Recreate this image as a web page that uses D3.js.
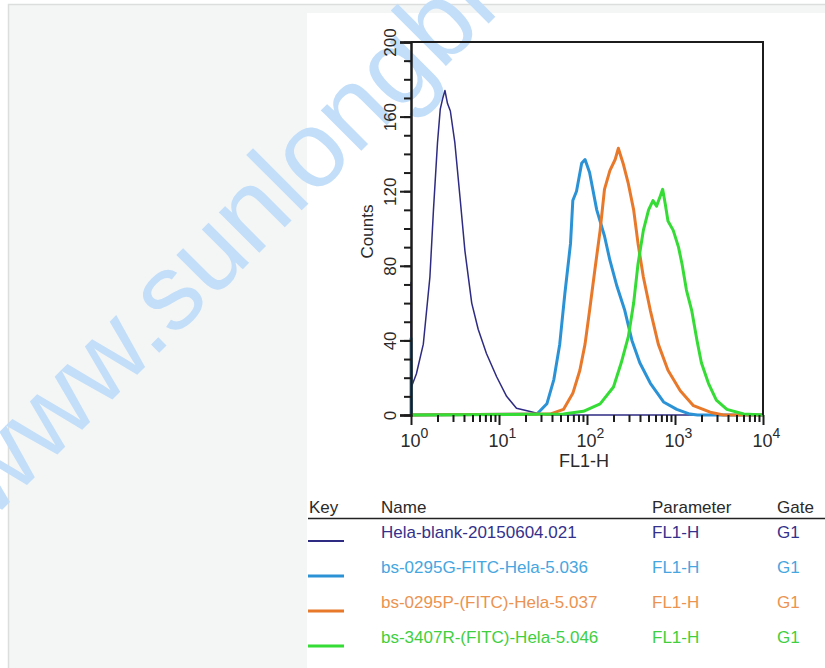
<!DOCTYPE html>
<html>
<head>
<meta charset="utf-8">
<script src="https://cdn.jsdelivr.net/npm/d3@7"></script>
<style>
  html, body { margin: 0; padding: 0; background: #fff; }
  svg { display: block; font-family: "Liberation Sans", Arial, sans-serif; }
</style>
</head>
<body>
<div id="chart"></div>
<script>
// histogram data: [FL1-H, count]
const blankHist = [[1, 0], [1, 71], [1.01, 15], [1.15, 22], [1.38, 38], [1.64, 74], [1.8, 110], [2.0, 146],
  [2.15, 164], [2.3, 170], [2.43, 174], [2.6, 167], [2.8, 163], [3.15, 146], [3.6, 117], [4.1, 88],
  [4.9, 60], [5.8, 46], [7.2, 33], [9.4, 20.5], [12.2, 10], [15.8, 3.6], [22, 2], [29, 0.5], [35, 0], [10000, 0]];
const g0295Hist = [[1, 0], [1, 41], [1.01, 0], [27, 0.5], [35, 6], [42, 19], [49, 38], [56, 65], [65, 92],
  [69, 115], [76, 120], [87, 135], [95, 137], [107, 130], [129, 110], [158, 96], [182, 83], [219, 69],
  [269, 56], [324, 40], [398, 28], [525, 17], [741, 7], [1047, 3], [1479, 0.5], [1800, 0], [10000, 0]];
const p0295Hist = [[1, 0], [38, 0.5], [54, 3], [69, 11.6], [83, 24], [95, 38], [107, 56], [123, 78],
  [141, 99], [158, 121], [182, 131], [209, 137], [227, 143], [257, 135], [295, 124], [339, 110], [380, 92],
  [437, 74], [525, 56], [646, 38], [832, 24], [1148, 13], [1622, 5], [2512, 1.5], [3548, 0], [10000, 0]];
const r3407Hist = [[1, 0], [54, 0.5], [91, 2], [141, 6], [200, 15], [245, 28], [295, 42], [339, 60],
  [380, 81], [437, 99], [501, 110], [562, 115], [617, 112], [676, 117], [724, 121], [776, 113], [832, 104],
  [955, 99], [1096, 90], [1202, 81], [1349, 67], [1549, 56], [1778, 40], [1995, 28], [2399, 17],
  [2951, 8], [3890, 3], [6026, 0.5], [10000, 0]];

const names = ["Hela-blank-20150604.021", "bs-0295G-FITC-Hela-5.036", "bs-0295P-(FITC)-Hela-5.037", "bs-3407R-(FITC)-Hela-5.046"];
const parameters = ["FL1-H", "FL1-H", "FL1-H", "FL1-H"];
const gates = ["G1", "G1", "G1", "G1"];
const headers = ["Key", "Name", "Parameter", "Gate"];

const yMajorTicks = [0, 40, 80, 120, 160, 200];
const yMinorTicks = d3.range(0, 201, 10);
const xMajorTicks = [1, 10, 100, 1000, 10000];
const xMinorTicks = [];
[1, 10, 100, 1000].forEach((d) => { for (let k = 2; k <= 9; k++) xMinorTicks.push(d * k); });

const series = [
  { data: blankHist, color: "#2e2b82", text: "#34318c", width: 1.5 },
  { data: g0295Hist, color: "#2c92d6", text: "#45a6e0", width: 3 },
  { data: p0295Hist, color: "#e8792a", text: "#eb9350", width: 3 },
  { data: r3407Hist, color: "#35dc35", text: "#3fcf3f", width: 3 },
];

const width = 825;
const height = 668;
const svg = d3.select("#chart").append("svg").attr("width", width).attr("height", height);

// page backdrop
svg.append("rect").attr("x", 8.5).attr("y", 4.5).attr("width", width).attr("height", height)
  .attr("fill", "#f4f6f6").attr("stroke", "#dcdede").attr("stroke-width", 1.5);
svg.append("rect").attr("x", 307).attr("y", 13).attr("width", width - 307).attr("height", height - 13)
  .attr("fill", "#fff");

// watermark
svg.append("text")
  .attr("transform", "translate(-9,521) rotate(-45)")
  .attr("font-size", 108)
  .attr("fill", "#c2def8")
  .text("www.sunlongbio.com");

const x = d3.scaleLog().domain([1, 10000]).range([411, 763]);
const y = d3.scaleLinear().domain([0, 200]).range([415, 42]);

// curves
const line = d3.line().x((d) => x(d[0])).y((d) => y(d[1]));
series.forEach((s) => {
  svg.append("path").datum(s.data)
    .attr("d", line)
    .attr("fill", "none")
    .attr("stroke", s.color)
    .attr("stroke-width", s.width)
    .attr("stroke-linejoin", "round");
});

// frame
svg.append("path")
  .attr("d", `M${x(1)},${y(200)}H${x(10000)}V${y(0)}`)
  .attr("fill", "none").attr("stroke", "#1c1c1c").attr("stroke-width", 2);

// y axis
svg.append("g").attr("transform", `translate(${x(1)},0)`)
  .call(d3.axisLeft(y).tickValues(yMinorTicks).tickSize(7).tickFormat(""))
  .call((g) => g.select(".domain").remove())
  .call((g) => g.selectAll("line").attr("stroke", "#1c1c1c").attr("stroke-width", 2));
svg.append("g").attr("transform", `translate(${x(1)},0)`)
  .call(d3.axisLeft(y).tickValues(yMajorTicks).tickSize(11).tickFormat(d3.format("d")))
  .call((g) => g.select(".domain").attr("stroke", "#1c1c1c").attr("stroke-width", 2.5))
  .call((g) => g.selectAll("line").attr("stroke", "#1c1c1c").attr("stroke-width", 2))
  .call((g) => g.selectAll("text")
    .attr("font-size", 17).attr("fill", "#2a2a2a").attr("font-family", null)
    .attr("text-anchor", "middle").attr("x", 0).attr("dy", 0)
    .attr("transform", "translate(-15,0) rotate(-90)"));

svg.append("text")
  .attr("transform", `translate(373,${(y(0) + y(200)) / 2 + 3}) rotate(-90)`)
  .attr("text-anchor", "middle").attr("font-size", 17).attr("fill", "#2a2a2a")
  .text("Counts");

// x axis
svg.append("g").attr("transform", `translate(0,${y(0)})`)
  .call(d3.axisBottom(x).tickValues(xMinorTicks).tickSize(7).tickFormat(""))
  .call((g) => g.select(".domain").remove())
  .call((g) => g.selectAll("line").attr("stroke", "#1c1c1c").attr("stroke-width", 2));
const xAxis = svg.append("g").attr("transform", `translate(0,${y(0)})`)
  .call(d3.axisBottom(x).tickValues(xMajorTicks).tickSize(10).tickFormat(""))
  .call((g) => g.select(".domain").remove())
  .call((g) => g.selectAll("line").attr("stroke", "#1c1c1c").attr("stroke-width", 2));
xAxis.selectAll(".tick").append("text")
  .attr("y", 32).attr("fill", "#2a2a2a").attr("font-size", 18).attr("text-anchor", "start")
  .attr("x", -11)
  .each(function (d) {
    const t = d3.select(this);
    t.append("tspan").text("10");
    t.append("tspan").attr("dy", -9).attr("font-size", 14).text(Math.round(Math.log10(d)));
  });

svg.append("text")
  .attr("x", x(100) - 3).attr("y", 467)
  .attr("text-anchor", "middle").attr("font-size", 18).attr("fill", "#2a2a2a")
  .text("FL1-H");

// key table
const colX = [309, 381, 652, 777];
const legend = svg.append("g");
legend.selectAll("text.head").data(headers).join("text")
  .attr("class", "head")
  .attr("x", (d, i) => colX[i]).attr("y", 513)
  .attr("font-size", 17).attr("fill", "#2a2a2a")
  .text((d) => d);
legend.append("line").attr("x1", 308).attr("x2", 825).attr("y1", 518.5).attr("y2", 518.5)
  .attr("stroke", "#222").attr("stroke-width", 1.5);

const rows = legend.selectAll("g.row").data(series).join("g")
  .attr("class", "row")
  .attr("transform", (d, i) => `translate(0,${538 + i * 35})`);
rows.append("line").attr("x1", 308).attr("x2", 344).attr("y1", 3).attr("y2", 3)
  .attr("stroke", (d) => d.color).attr("stroke-width", (d, i) => (i === 0 ? 2 : 3));
rows.append("text").attr("x", colX[1]).attr("y", 0).attr("font-size", 17)
  .attr("fill", (d) => d.text).text((d, i) => names[i]);
rows.append("text").attr("x", colX[2]).attr("y", 0).attr("font-size", 17)
  .attr("fill", (d) => d.text).text((d, i) => parameters[i]);
rows.append("text").attr("x", colX[3]).attr("y", 0).attr("font-size", 17)
  .attr("fill", (d) => d.text).text((d, i) => gates[i]);
</script>
</body>
</html>
